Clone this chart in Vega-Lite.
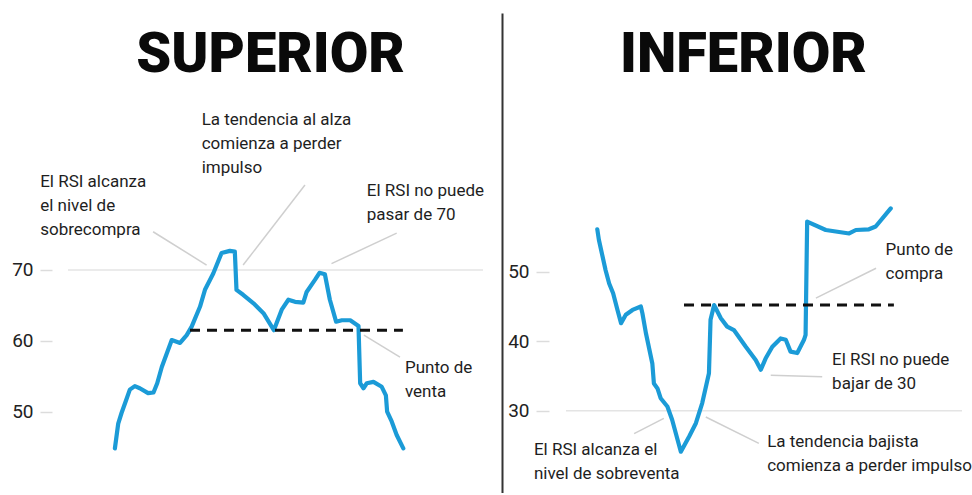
{
  "$schema": "https://vega.github.io/schema/vega-lite/v6.json",
  "padding": {"left": 11, "top": 13, "right": 0, "bottom": 0},
  "autosize": {"type": "pad"},
  "background": "white",
  "config": {"view": {"stroke": null}, "font": "Roboto", "concat": {"spacing": 5}},
  "datasets": {
    "superior": [
      {"t": 11.3, "rsi": 44.8}, {"t": 12.1, "rsi": 48.3}, {"t": 12.9, "rsi": 49.8}, {"t": 14.0, "rsi": 51.6},
      {"t": 14.9, "rsi": 53.1}, {"t": 16.1, "rsi": 53.6}, {"t": 17.3, "rsi": 53.3}, {"t": 19.3, "rsi": 52.6},
      {"t": 20.6, "rsi": 52.7}, {"t": 21.5, "rsi": 54.0}, {"t": 22.6, "rsi": 56.3}, {"t": 23.8, "rsi": 58.2},
      {"t": 25.0, "rsi": 60.1}, {"t": 27.0, "rsi": 59.7}, {"t": 28.6, "rsi": 60.8}, {"t": 29.8, "rsi": 62.0},
      {"t": 31.8, "rsi": 64.8}, {"t": 33.0, "rsi": 67.2}, {"t": 35.0, "rsi": 69.5}, {"t": 37.0, "rsi": 72.4},
      {"t": 39.0, "rsi": 72.7}, {"t": 40.2, "rsi": 72.6}, {"t": 40.6, "rsi": 67.2}, {"t": 42.2, "rsi": 66.5},
      {"t": 44.7, "rsi": 65.3}, {"t": 47.1, "rsi": 63.9}, {"t": 49.6, "rsi": 61.5}, {"t": 51.5, "rsi": 64.4},
      {"t": 53.1, "rsi": 65.8}, {"t": 54.7, "rsi": 65.5}, {"t": 56.7, "rsi": 65.4}, {"t": 57.5, "rsi": 66.9},
      {"t": 59.5, "rsi": 68.6}, {"t": 60.6, "rsi": 69.6}, {"t": 61.9, "rsi": 69.4}, {"t": 63.1, "rsi": 65.8},
      {"t": 64.6, "rsi": 62.7}, {"t": 66.0, "rsi": 62.9}, {"t": 68.0, "rsi": 62.9}, {"t": 70.0, "rsi": 62.1},
      {"t": 70.4, "rsi": 54.0}, {"t": 71.2, "rsi": 53.3}, {"t": 72.0, "rsi": 54.0}, {"t": 73.6, "rsi": 54.2},
      {"t": 75.6, "rsi": 53.5}, {"t": 76.6, "rsi": 52.3}, {"t": 76.9, "rsi": 50.0}, {"t": 78.0, "rsi": 48.6},
      {"t": 79.2, "rsi": 46.7}, {"t": 80.8, "rsi": 44.8}
    ],
    "inferior": [
      {"t": 7.9, "rsi": 56.1}, {"t": 8.3, "rsi": 54.6}, {"t": 10.0, "rsi": 50.2}, {"t": 10.9, "rsi": 48.3},
      {"t": 11.9, "rsi": 46.9}, {"t": 13.0, "rsi": 44.5}, {"t": 13.9, "rsi": 42.6}, {"t": 15.1, "rsi": 43.8},
      {"t": 16.8, "rsi": 44.5}, {"t": 18.9, "rsi": 45.0}, {"t": 19.3, "rsi": 44.0}, {"t": 20.2, "rsi": 41.1},
      {"t": 21.8, "rsi": 36.8}, {"t": 22.2, "rsi": 33.9}, {"t": 23.1, "rsi": 33.2}, {"t": 23.9, "rsi": 31.8},
      {"t": 25.6, "rsi": 30.6}, {"t": 26.8, "rsi": 28.7}, {"t": 29.0, "rsi": 24.1}, {"t": 31.1, "rsi": 26.3},
      {"t": 32.8, "rsi": 28.2}, {"t": 34.4, "rsi": 31.1}, {"t": 36.1, "rsi": 35.4}, {"t": 36.5, "rsi": 43.1},
      {"t": 37.4, "rsi": 45.2}, {"t": 39.1, "rsi": 43.3}, {"t": 40.7, "rsi": 42.1}, {"t": 42.4, "rsi": 41.6},
      {"t": 45.4, "rsi": 39.2}, {"t": 47.9, "rsi": 37.3}, {"t": 49.2, "rsi": 35.9}, {"t": 50.4, "rsi": 37.5},
      {"t": 52.1, "rsi": 39.2}, {"t": 54.2, "rsi": 40.4}, {"t": 55.5, "rsi": 40.2}, {"t": 56.7, "rsi": 38.5},
      {"t": 58.4, "rsi": 38.3}, {"t": 60.1, "rsi": 40.2}, {"t": 60.5, "rsi": 40.9}, {"t": 60.9, "rsi": 57.2},
      {"t": 65.6, "rsi": 56.0}, {"t": 71.5, "rsi": 55.5}, {"t": 73.2, "rsi": 56.0}, {"t": 76.5, "rsi": 56.1},
      {"t": 78.2, "rsi": 56.5}, {"t": 82.0, "rsi": 59.1}
    ],
    "supLevel": [{"t": 29.4, "t2": 80.7, "rsi": 61.5}],
    "infLevel": [{"t": 29.8, "t2": 82.8, "rsi": 45.2}],
    "supNotes": [
      {"t": -6.7, "rsi": 81.7, "label": "El RSI alcanza\nel nivel de\nsobrecompra"},
      {"t": 32.2, "rsi": 90.5, "label": "La tendencia al alza\ncomienza a perder\nimpulso"},
      {"t": 72.0, "rsi": 80.4, "label": "El RSI no puede\npasar de 70"},
      {"t": 81.2, "rsi": 55.4, "label": "Punto de\nventa"}
    ],
    "infNotes": [
      {"t": 80.7, "rsi": 52.4, "label": "Punto de\ncompra"},
      {"t": 67.2, "rsi": 36.6, "label": "El RSI no puede\nbajar de 30"},
      {"t": -8.1, "rsi": 23.6, "label": "El RSI alcanza el\nnivel de sobreventa"},
      {"t": 50.8, "rsi": 24.8, "label": "La tendencia bajista\ncomienza a perder impulso"}
    ],
    "supArrows": [
      {"t": 20.5, "rsi": 75.4, "t2": 33.4, "rsi2": 70.7},
      {"t": 57.1, "rsi": 82.0, "t2": 42.2, "rsi2": 70.7},
      {"t": 79.2, "rsi": 75.2, "t2": 63.5, "rsi2": 70.9},
      {"t": 80.0, "rsi": 57.7, "t2": 71.3, "rsi2": 60.8}
    ],
    "infArrows": [
      {"t": 78.3, "rsi": 50.5, "t2": 63.1, "rsi2": 46.2},
      {"t": 64.7, "rsi": 34.9, "t2": 51.7, "rsi2": 35.1},
      {"t": 17.2, "rsi": 26.7, "t2": 24.7, "rsi2": 28.9},
      {"t": 48.7, "rsi": 25.3, "t2": 35.3, "rsi2": 29.1}
    ],
    "supTitle": [{"t": 48.8, "rsi": 98.0, "label": "SUPERIOR"}],
    "infTitle": [{"t": 44.8, "rsi": 78.7, "label": "INFERIOR"}]
  },
  "hconcat": [
    {
      "width": 415,
      "height": 480,
      "resolve": {"axis": {"y": "independent"}},
      "layer": [
        {
          "data": {"values": [{"ref": 70}]},
          "mark": {"type": "rule", "color": "#e4e4e4", "strokeWidth": 1.5},
          "encoding": {
            "y": {"field": "ref", "type": "quantitative", "scale": {"domain": [38.5, 106.3], "nice": false, "zero": false},
                  "axis": {"orient": "right", "offset": 19, "domainColor": "#333333", "domainWidth": 2, "ticks": false, "labels": false, "grid": false, "title": null}}
          }
        },
        {
          "data": {"name": "supArrows"},
          "mark": {"type": "rule", "color": "#cfcfcf", "strokeWidth": 1.5, "clip": false},
          "encoding": {
            "x": {"field": "t", "type": "quantitative", "axis": null},
            "y": {"field": "rsi", "type": "quantitative", "axis": null},
            "x2": {"field": "t2"},
            "y2": {"field": "rsi2"}
          }
        },
        {
          "data": {"name": "superior"},
          "mark": {"type": "line", "color": "#1b9bd7", "strokeWidth": 4.2, "strokeJoin": "round", "strokeCap": "round"},
          "encoding": {
            "x": {"field": "t", "type": "quantitative", "scale": {"domain": [0, 100], "nice": false, "zero": false},
                  "axis": {"orient": "bottom", "domainColor": "#ececec", "ticks": false, "labels": false, "grid": false, "title": null}},
            "y": {"field": "rsi", "type": "quantitative",
                  "axis": {"orient": "left", "values": [50, 60, 70], "offset": 16, "tickSize": 12, "tickColor": "#dcdcdc", "tickWidth": 1.5, "domain": false, "grid": false, "labelFontSize": 19, "labelColor": "#222222", "labelPadding": 7, "labelFont": "Roboto", "title": null}}
          }
        },
        {
          "data": {"name": "supLevel"},
          "mark": {"type": "rule", "color": "#111111", "strokeWidth": 3, "strokeDash": [10, 7]},
          "encoding": {
            "x": {"field": "t", "type": "quantitative", "axis": null},
            "x2": {"field": "t2"},
            "y": {"field": "rsi", "type": "quantitative", "axis": null}
          }
        },
        {
          "data": {"name": "supNotes"},
          "mark": {"type": "text", "align": "left", "baseline": "alphabetic", "lineBreak": "\n", "lineHeight": 24, "fontSize": 17, "color": "#1e1e1e", "clip": false},
          "encoding": {
            "x": {"field": "t", "type": "quantitative", "axis": null},
            "y": {"field": "rsi", "type": "quantitative", "axis": null},
            "text": {"field": "label"}
          }
        },
        {
          "data": {"name": "supTitle"},
          "mark": {"type": "text", "align": "center", "baseline": "alphabetic", "fontSize": 56, "fontWeight": 900, "font": "Roboto", "color": "#0a0a0a", "clip": false},
          "encoding": {
            "x": {"field": "t", "type": "quantitative", "axis": null},
            "y": {"field": "rsi", "type": "quantitative", "axis": null},
            "text": {"field": "label"}
          }
        }
      ]
    },
    {
      "width": 396,
      "height": 480,
      "resolve": {"axis": {"y": "independent", "x": "independent"}},
      "layer": [
        {
          "data": {"values": [{"ref": 30}]},
          "mark": {"type": "rule", "color": "#e4e4e4", "strokeWidth": 1.5},
          "encoding": {
            "y": {"field": "ref", "type": "quantitative", "scale": {"domain": [18.16, 87.22], "nice": false, "zero": false},
                  "axis": {"orient": "left", "values": [30, 40, 50], "offset": 17, "tickSize": 13, "tickColor": "#dcdcdc", "tickWidth": 1.5, "domain": false, "grid": false, "labelFontSize": 19, "labelColor": "#222222", "labelPadding": 7, "labelFont": "Roboto", "title": null}}
          }
        },
        {
          "data": {"name": "infArrows"},
          "mark": {"type": "rule", "color": "#cfcfcf", "strokeWidth": 1.5, "clip": false},
          "encoding": {
            "x": {"field": "t", "type": "quantitative", "axis": null},
            "y": {"field": "rsi", "type": "quantitative", "axis": null},
            "x2": {"field": "t2"},
            "y2": {"field": "rsi2"}
          }
        },
        {
          "data": {"name": "inferior"},
          "mark": {"type": "line", "color": "#1b9bd7", "strokeWidth": 4.2, "strokeJoin": "round", "strokeCap": "round"},
          "encoding": {
            "x": {"field": "t", "type": "quantitative", "scale": {"domain": [0, 100], "nice": false, "zero": false},
                  "axis": {"orient": "bottom", "domainColor": "#ececec", "ticks": false, "labels": false, "grid": false, "title": null}},
            "y": {"field": "rsi", "type": "quantitative", "axis": null}
          }
        },
        {
          "data": {"name": "infLevel"},
          "mark": {"type": "rule", "color": "#111111", "strokeWidth": 3, "strokeDash": [10, 7]},
          "encoding": {
            "x": {"field": "t", "type": "quantitative", "axis": null},
            "x2": {"field": "t2"},
            "y": {"field": "rsi", "type": "quantitative", "axis": null}
          }
        },
        {
          "data": {"name": "infNotes"},
          "mark": {"type": "text", "align": "left", "baseline": "alphabetic", "lineBreak": "\n", "lineHeight": 24, "fontSize": 17, "color": "#1e1e1e", "clip": false},
          "encoding": {
            "x": {"field": "t", "type": "quantitative", "axis": null},
            "y": {"field": "rsi", "type": "quantitative", "axis": null},
            "text": {"field": "label"}
          }
        },
        {
          "data": {"name": "infTitle"},
          "mark": {"type": "text", "align": "center", "baseline": "alphabetic", "fontSize": 56, "fontWeight": 900, "font": "Roboto", "color": "#0a0a0a", "clip": false},
          "encoding": {
            "x": {"field": "t", "type": "quantitative", "axis": null},
            "y": {"field": "rsi", "type": "quantitative", "axis": null},
            "text": {"field": "label"}
          }
        }
      ]
    }
  ]
}
